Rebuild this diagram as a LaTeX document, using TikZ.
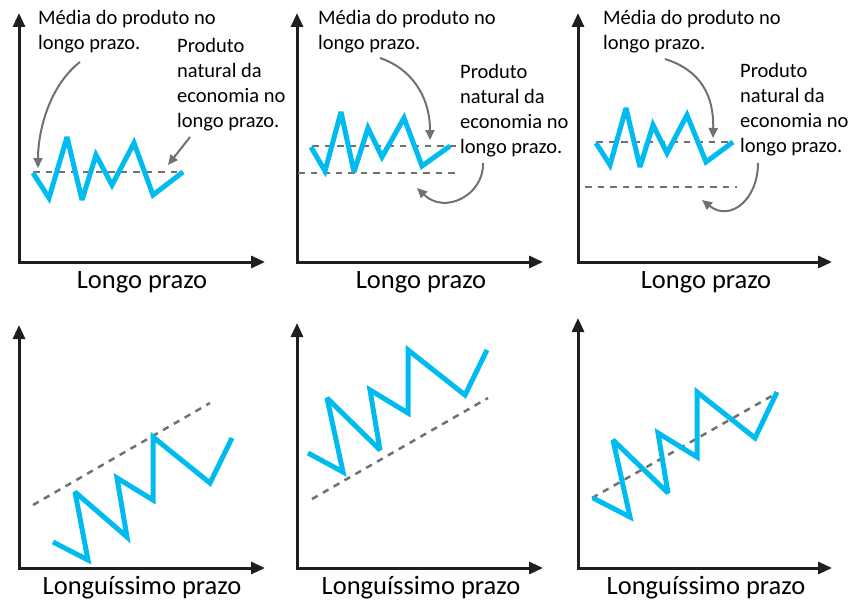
\documentclass[tikz,border=0pt]{standalone}
\usepackage{fontspec}
\setmainfont{Carlito}
\usetikzlibrary{arrows.meta}
\definecolor{ciano}{RGB}{0,187,240}
\definecolor{cinza}{RGB}{112,113,116}
\tikzset{
	eixo/.style={line width=3pt, color=black!88, line join=miter, {Triangle[length=14pt,width=12pt]}-{Triangle[length=14pt,width=12pt]}},
	serie/.style={line width=5pt, color=ciano, line join=miter, miter limit=3},
	tendencia/.style={line width=2.5pt, color=cinza, dash pattern=on 6.5pt off 6pt},
	seta/.style={line width=2pt, color=cinza, -{Triangle[length=10pt,width=9pt]}},
	rotulo/.style={font=\fontsize{20.5}{24.8}\selectfont, align=left, anchor=base west, inner sep=0pt},
	prazo/.style={font=\fontsize{26.5}{30}\selectfont, anchor=base, inner sep=0pt}
}

\begin{document}
\begin{tikzpicture}[x=1pt, y=-1pt]
		%%%%% START %%%%%
		\useasboundingbox (0,0) rectangle (853,602);
		
		% painel 1
		\draw[eixo] (19,13) -- (19,262) -- (265,262);
		\draw[tendencia] (33,172) -- (183,172);
		\draw[serie] (33,173) -- (49,198) -- (67,137) -- (82,200) -- (96,155) -- (112,185) -- (134,143) -- (153,195) -- (183,172);
		\node[rotulo] (media1) at (38,49) {Média do produto no\\longo prazo.};
		\node[rotulo] (natural1) at (177,127) {Produto\\natural da\\economia no\\longo prazo.};
		\node[prazo] (prazo1) at (142,288) {Longo prazo};
		\coordinate (m1a) at (80,62);
		\coordinate (m1b) at (38,168);
		\coordinate (n1a) at (190,137);
		\coordinate (n1b) at (168,165);
		\draw[seta] (m1a) .. controls (50,85) and (38,130) .. (m1b);
		\draw[seta] (n1a) -- (n1b);
		
		% painel 2
		\draw[eixo] (297,13) -- (297,262) -- (543,262);
		\draw[tendencia] (312,146) -- (460,146);
		\draw[tendencia] (298,173) -- (460,173);
		\draw[serie] (311,147) -- (325,171) -- (341,112) -- (354,172) -- (368,128) -- (382,157) -- (404,118) -- (422,166) -- (450,146);
		\node[rotulo] (media2) at (318,49) {Média do produto no\\longo prazo.};
		\node[rotulo] (natural2) at (460,153) {Produto\\natural da\\economia no\\longo prazo.};
		\node[prazo] (prazo2) at (421,288) {Longo prazo};
		\coordinate (m2a) at (380,58);
		\coordinate (m2b) at (430,140);
		\coordinate (n2a) at (483,163);
		\coordinate (n2b) at (417,188);
		\draw[seta] (m2a) .. controls (410,68) and (430,95) .. (m2b);
		\draw[seta] (n2a) .. controls (484,195) and (445,215) .. (n2b);
		
		% painel 3
		\draw[eixo] (578,13) -- (578,262) -- (832,262);
		\draw[tendencia] (596,142) -- (733,142);
		\draw[tendencia] (585,187) -- (737,187);
		\draw[serie] (596,143) -- (610,165) -- (626,108) -- (640,167) -- (653,125) -- (667,153) -- (687,115) -- (706,162) -- (733,142);
		\node[rotulo] (media3) at (603,49) {Média do produto no\\longo prazo.};
		\node[rotulo] (natural3) at (740,152) {Produto\\natural da\\economia no\\longo prazo.};
		\node[prazo] (prazo3) at (706,288) {Longo prazo};
		\coordinate (m3a) at (665,59);
		\coordinate (m3b) at (713,138);
		\coordinate (n3a) at (758,163);
		\coordinate (n3b) at (702,200);
		\draw[seta] (m3a) .. controls (700,70) and (714,95) .. (m3b);
		\draw[seta] (n3a) .. controls (758,200) and (730,222) .. (n3b);
		
		% painel 4
		\draw[eixo] (19,325) -- (19,568) -- (265,568);
		\draw[tendencia] (33,505) -- (210,403);
		\draw[serie] (53,542) -- (88,560) -- (75,492) -- (127,537) -- (117,478) -- (153,500) -- (153,437) -- (210,483) -- (232,438);
		\node[prazo] (longo4) at (142,594) {Longuíssimo prazo};
		
		% painel 5
		\draw[eixo] (297,323) -- (297,568) -- (543,568);
		\draw[tendencia] (312,499) -- (488,398);
		\draw[serie] (308,453) -- (343,472) -- (327,398) -- (380,450) -- (370,390) -- (408,413) -- (408,350) -- (465,395) -- (487,350);
		\node[prazo] (longo5) at (421,594) {Longuíssimo prazo};
		
		% painel 6
		\draw[eixo] (578,318) -- (578,568) -- (832,568);
		\draw[tendencia] (592,498) -- (777,393);
		\draw[serie] (593,498) -- (630,517) -- (613,440) -- (668,493) -- (658,433) -- (697,457) -- (697,392) -- (755,438) -- (777,392);
		\node[prazo] (longo6) at (706,594) {Longuíssimo prazo};
		
		%%%%% END %%%%%
\end{tikzpicture}
\end{document}
